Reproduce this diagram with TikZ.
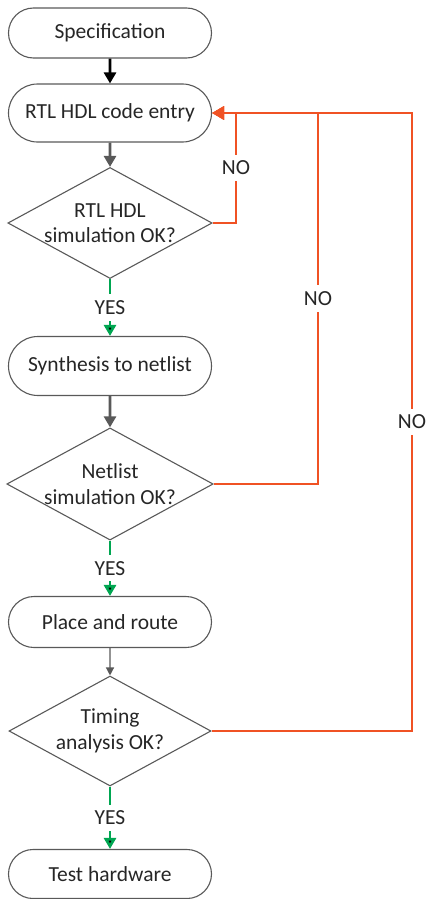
\documentclass[tikz,border=0pt]{standalone}
\usepackage{fontspec}
\setmainfont{Carlito}
\usetikzlibrary{shapes.geometric, shapes.misc, arrows.meta}

\definecolor{nored}{RGB}{240,82,36}
\definecolor{yesgreen}{RGB}{0,166,81}
\definecolor{edgegray}{RGB}{89,89,89}
\definecolor{textgray}{RGB}{38,38,38}

\tikzset{
  term/.style={rounded rectangle, draw=edgegray, line width=1.1pt, minimum width=203pt,
    inner sep=0pt, text=textgray, font=\fontsize{21.5}{25.5}\selectfont},
  test/.style={diamond, draw=edgegray, line width=1.1pt, minimum width=202pt, minimum height=110pt,
    aspect=1.84, inner sep=0pt, align=center, text=textgray, font=\fontsize{21.5}{25.5}\selectfont},
  flow/.style={draw=edgegray, line width=2.7pt, -{Triangle[width=12pt,length=11pt]}},
  yes/.style={draw=yesgreen, line width=2.7pt, -{Triangle[width=12pt,length=11pt]}},
  no/.style={draw=nored, line width=2.9pt, -{Triangle[width=13pt,length=12pt]}},
  lbl/.style={fill=white, text=textgray, inner xsep=2pt, inner ysep=6pt, font=\fontsize{21.5}{25.5}\selectfont}
}

\begin{document}
\begin{tikzpicture}[x=1pt, y=-1pt]
\useasboundingbox (0,0) rectangle (427,899);

\node[term, minimum height=50pt] (spec) at (110,33) {Specification};
\node[term, minimum height=58pt] (rtl) at (110,113) {RTL HDL code entry};
\node[test] (rtlsim) at (110,223) {RTL HDL\\simulation OK?};
\node[term, minimum height=59pt] (synth) at (110,366) {Synthesis to netlist};
\node[test] (netsim) at (110,484) {Netlist\\simulation OK?};
\node[term, minimum height=51pt] (pnr) at (110,622) {Place and route};
\node[test] (timing) at (110,731) {Timing\\analysis OK?};
\node[term, minimum height=49pt] (hw) at (110,874) {Test hardware};

% feedback columns
\coordinate (back1) at (236,113);
\coordinate (back2) at (318,113);
\coordinate (back3) at (412,113);

\draw[flow, draw=black] (spec) -- (rtl);
\draw[flow] (rtl) -- (rtlsim);
\draw[flow] (synth) -- (netsim);
\draw[flow, line width=1.3pt, -{Triangle[width=8pt,length=8pt]}] (pnr) -- (timing);

\path[yes] (rtlsim) edge node[lbl] {YES} (synth);
\path[yes] (netsim) edge node[lbl] {YES} (pnr);
\path[yes] (timing) edge node[lbl] {YES} (hw);

\draw[no] (timing.east) -| node[lbl, pos=0.75] {NO} (back3) -- (rtl.east);
\draw[no] (netsim.east) -| node[lbl, pos=0.75] {NO} (back2) -- (rtl.east);
\draw[no] (rtlsim.east) -| node[lbl, pos=0.75] {NO} (back1) -- (rtl.east);
\end{tikzpicture}
\end{document}
